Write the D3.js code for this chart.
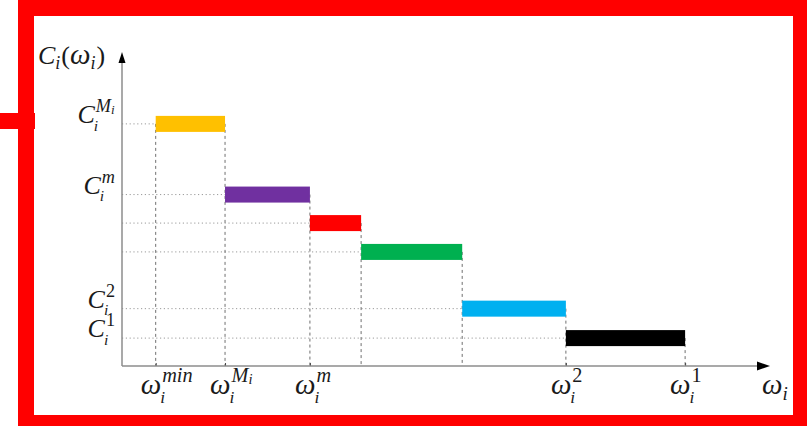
<!DOCTYPE html>
<html>
<head>
<meta charset="utf-8">
<script src="https://cdn.jsdelivr.net/npm/d3@7/dist/d3.min.js"></script>
<style>
  html, body { margin: 0; padding: 0; background: #fff; }
  svg { display: block; }
  text { font-family: "Liberation Serif", "DejaVu Serif", serif; fill: #1a1a1a; }
</style>
</head>
<body>
<svg id="chart" width="807" height="426"></svg>
<script>
// Step cost function C_i(ω_i): each step holds a constant cost over an interval of ω_i
const stepStart = [0.52, 1.59, 2.90, 3.69, 5.25, 6.85];
const stepEnd   = [1.59, 2.90, 3.69, 5.25, 6.85, 8.69];
const stepCost  = [7.81, 5.53, 4.61, 3.68, 1.85, 0.90];
const stepColors = ["#FFC000", "#7030A0", "#FF0000", "#00B050", "#00B0F0", "#000000"];

// Labelled positions on the ω_i axis
const xTickValues = [0.52, 1.59, 2.90, 6.85, 8.69];
const xTickLabels = [
  { base: "ω", sub: "i", sup: "min" },
  { base: "ω", sub: "i", sup: "M", supSub: "i" },
  { base: "ω", sub: "i", sup: "m" },
  { base: "ω", sub: "i", sup: "2" },
  { base: "ω", sub: "i", sup: "1" }
];

// Labelled levels on the C_i axis
const yTickValues = [7.81, 5.53, 1.85, 0.90];
const yTickLabels = [
  { base: "C", sub: "i", sup: "M", supSub: "i" },
  { base: "C", sub: "i", sup: "m" },
  { base: "C", sub: "i", sup: "2" },
  { base: "C", sub: "i", sup: "1" }
];

const svg = d3.select("#chart");

// Red frame around the figure
const frame = svg.append("g").attr("fill", "#FF0000");
frame.append("rect").attr("x", 18).attr("y", 0).attr("width", 789).attr("height", 16);
frame.append("rect").attr("x", 18).attr("y", 0).attr("width", 16).attr("height", 426);
frame.append("rect").attr("x", 793).attr("y", 0).attr("width", 14).attr("height", 426);
frame.append("rect").attr("x", 18).attr("y", 415).attr("width", 789).attr("height", 11);
frame.append("rect").attr("x", 0).attr("y", 113).attr("width", 35).attr("height", 16);

const x = d3.scaleLinear().domain([0, 10]).range([122, 770]);
const y = d3.scaleLinear().domain([0, 10]).range([366, 56]);

const steps = stepStart.map((s, i) => ({ s, e: stepEnd[i], c: stepCost[i], color: stepColors[i] }));

// Dotted guides from the C axis to the start of each step
svg.append("g").selectAll("line").data(steps).join("line")
  .attr("x1", x(0)).attr("x2", d => x(d.s))
  .attr("y1", d => y(d.c)).attr("y2", d => y(d.c))
  .attr("stroke", "#9a9a9a").attr("stroke-width", 1)
  .attr("stroke-dasharray", "1.2,2.6");

// Dashed drops from each step end (and the first step start) to the ω axis
const drops = [{ x: steps[0].s, c: steps[0].c }].concat(steps.map(d => ({ x: d.e, c: d.c })));
svg.append("g").selectAll("line").data(drops).join("line")
  .attr("x1", d => x(d.x)).attr("x2", d => x(d.x))
  .attr("y1", d => y(d.c)).attr("y2", y(0))
  .attr("stroke", "#6f6f6f").attr("stroke-width", 1)
  .attr("stroke-dasharray", "3,3");

// Axes
const xAxis = d3.axisBottom(x).tickValues(xTickValues).tickSizeInner(-3).tickSizeOuter(0).tickFormat("");
const gx = svg.append("g").attr("transform", `translate(0,${y(0)})`).call(xAxis);
gx.select(".domain").remove();
gx.selectAll(".tick line").attr("stroke", "#444");

svg.append("line").attr("x1", x(0)).attr("x2", 758).attr("y1", y(0)).attr("y2", y(0))
  .attr("stroke", "#8c8c8c").attr("stroke-width", 1.5);
svg.append("path").attr("d", `M757,${y(0) - 4.5}L770,${y(0)}L757,${y(0) + 4.5}Z`).attr("fill", "#000");

svg.append("line").attr("x1", x(0)).attr("x2", x(0)).attr("y1", y(0)).attr("y2", 62)
  .attr("stroke", "#8c8c8c").attr("stroke-width", 1.5);
svg.append("path").attr("d", `M${x(0) - 3.5},63L${x(0)},52L${x(0) + 3.5},63Z`).attr("fill", "#000");

// Step bars
svg.append("g").selectAll("rect").data(steps).join("rect")
  .attr("x", d => x(d.s)).attr("width", d => x(d.e) - x(d.s))
  .attr("y", d => y(d.c) - 8).attr("height", 16)
  .attr("fill", d => d.color);

// Math-style label: italic base glyph with stacked subscript and superscript (digits upright)
function mathLabel(g, lab, size) {
  const base = g.append("text").attr("x", 0).attr("y", 0).style("font-size", size + "px")
    .style("font-style", "italic").text(lab.base);
  const w = base.node().getComputedTextLength();
  const subSize = size * 0.6, supSize = size * 0.7;
  g.append("text").attr("x", w - 1).attr("y", size * 0.3).style("font-size", subSize + "px")
    .style("font-style", "italic").text(lab.sub);
  const sup = g.append("text").attr("x", w + 1).attr("y", -size * 0.42).style("font-size", supSize + "px")
    .style("font-style", /^\d+$/.test(lab.sup) ? "normal" : "italic").text(lab.sup);
  if (lab.supSub) {
    const sw = sup.node().getComputedTextLength();
    g.append("text").attr("x", w + 1 + sw).attr("y", -size * 0.34).style("font-size", (supSize * 0.72) + "px")
      .style("font-style", "italic").text(lab.supSub);
  }
}

// ω labels under the axis
xTickLabels.forEach((lab, i) => {
  const g = svg.append("g").attr("transform", `translate(${x(xTickValues[i]) - 15},394)`);
  mathLabel(g, lab, 29);
});

// C labels left of the axis, right-aligned
yTickLabels.forEach((lab, i) => {
  const g = svg.append("g");
  mathLabel(g, lab, 26);
  const bb = g.node().getBBox();
  g.attr("transform", `translate(${115 - (bb.x + bb.width)},${y(yTickValues[i]) - 1})`);
});

// Axis titles
const yt = svg.append("text").attr("x", 38).attr("y", 64).style("font-size", "26px").style("font-style", "italic");
yt.append("tspan").text("C");
yt.append("tspan").style("font-size", "18px").attr("dy", 5).text("i");
yt.append("tspan").style("font-style", "normal").attr("dx", 1).attr("dy", -5).text("(");
yt.append("tspan").style("font-size", "29px").text("ω");
yt.append("tspan").style("font-size", "18px").attr("dy", 5).text("i");
yt.append("tspan").style("font-style", "normal").attr("dx", 1).attr("dy", -5).text(")");

const xt = svg.append("text").attr("x", 762).attr("y", 394).style("font-size", "29px").style("font-style", "italic");
xt.append("tspan").text("ω");
xt.append("tspan").style("font-size", "19px").attr("dy", 6).text("i");
</script>
</body>
</html>
